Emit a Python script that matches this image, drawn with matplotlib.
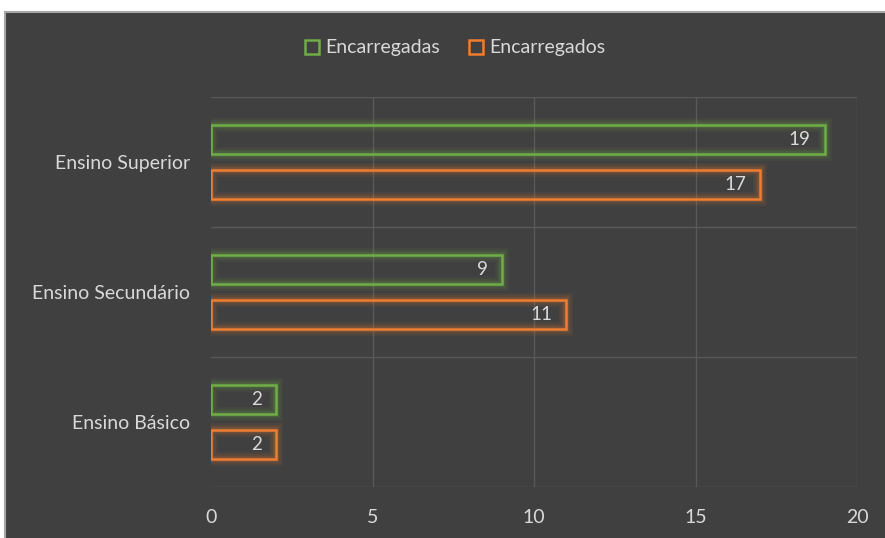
import matplotlib
matplotlib.use("Agg")
import matplotlib.pyplot as plt
import numpy as np
from matplotlib.patches import Rectangle, Patch

categories = ["Ensino Básico", "Ensino Secundário", "Ensino Superior"]
encarregadas = [2, 9, 19]
encarregados = [2, 11, 17]
series_names = ["Encarregadas", "Encarregados"]
x_ticks = [0, 5, 10, 15, 20]

GREEN = "#70ad47"
ORANGE = "#ed7d31"
BG = "#404040"
TEXT = "#d9d9d9"
GRID = "#595959"

plt.rcParams["font.family"] = ["Lato", "DejaVu Sans"]

fig = plt.figure(figsize=(8.85, 5.38), dpi=100)
fig.patch.set_facecolor("white")
# dark chart panel (cropped on the right and bottom)
fig.patches.append(Rectangle((5 / 885, -0.1), 1.0, 1 - 12 / 538 + 0.1,
                             transform=fig.transFigure, facecolor=BG,
                             edgecolor="#a6a6a6", linewidth=1.5, zorder=-5))

ax = fig.add_axes([211 / 885, 1 - 487 / 538, (857 - 211) / 885, (487 - 97) / 538])
ax.set_zorder(2)
ax.patch.set_alpha(0)

y = np.arange(len(categories))
h = 0.22
off = 0.173


def draw(vals, ypos, color):
    # soft glow
    for lw, a in [(10, 0.07), (7, 0.1), (4, 0.18)]:
        ax.barh(ypos, vals, height=h, left=0, facecolor="none", edgecolor=color,
                linewidth=lw, alpha=a, zorder=2)
    ax.barh(ypos, vals, height=h, left=0, facecolor="none", edgecolor=color,
            linewidth=1.8, zorder=3)
    for yy, v in zip(ypos, vals):
        ax.text(v - 0.43, yy, str(v), ha="right", va="center", color=TEXT,
                fontsize=13.5, zorder=4)


draw(encarregadas, y + off, GREEN)
draw(encarregados, y - off, ORANGE)

ax.set_xlim(0, 20)
ax.set_ylim(-0.5, len(categories) - 0.5)
ax.set_xticks(x_ticks)
ax.set_xticklabels([str(t) for t in x_ticks])
ax.set_yticks(y)
ax.set_yticklabels(categories)
ax.tick_params(axis="both", length=0, colors=TEXT, labelsize=14)
ax.tick_params(axis="x", pad=16)
ax.tick_params(axis="y", pad=15)

for t in x_ticks[1:]:
    ax.axvline(t, color=GRID, linewidth=1, zorder=1)
for b in np.arange(-0.5, len(categories), 1.0):
    ax.axhline(b, color=GRID, linewidth=1, zorder=1)
for s in ax.spines.values():
    s.set_visible(False)

handles = [Patch(facecolor="none", edgecolor=GREEN, linewidth=1.8),
           Patch(facecolor="none", edgecolor=ORANGE, linewidth=1.8)]
fig.legend(handles, series_names, loc="center", bbox_to_anchor=(455 / 885, 1 - 48 / 538),
           ncol=2, frameon=False, fontsize=14, labelcolor=TEXT,
           handlelength=0.75, handleheight=0.75, handletextpad=0.3, columnspacing=1.5)

fig.savefig("out.png", dpi=100, facecolor=fig.get_facecolor())
